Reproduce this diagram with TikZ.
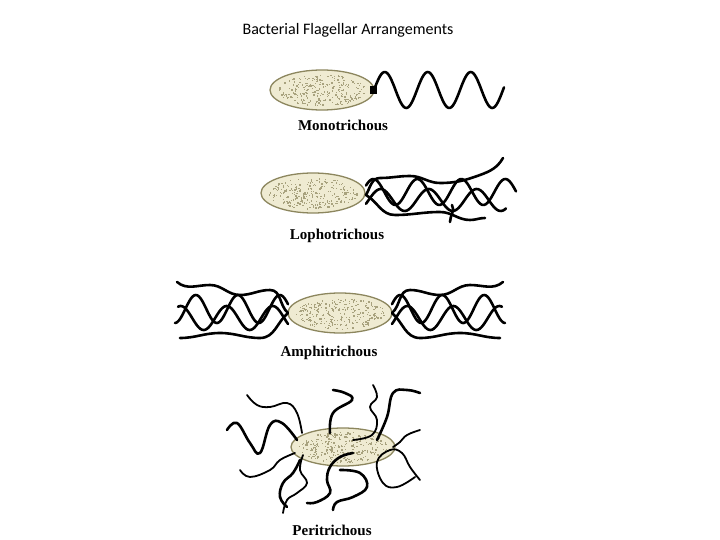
\documentclass[tikz,border=0pt]{standalone}
\usepackage{fontspec}
\setmainfont{Liberation Serif}
\newfontfamily\titlefont{Carlito}
\definecolor{cellfill}{HTML}{EFEBD2}
\definecolor{cellline}{HTML}{8C865E}
\definecolor{speck}{HTML}{A8A27E}
\usetikzlibrary{shapes.geometric}
\tikzset{
  cell/.style={draw=cellline,line width=1.3pt,fill=cellfill,ellipse,minimum width=104pt,minimum height=40pt,inner sep=0pt},
  flag/.style={line width=2.6pt,line cap=round,line join=round},
  thin flag/.style={line width=1.8pt,line cap=round,line join=round},
  lbl/.style={font=\bfseries\fontsize{15}{17}\selectfont},
}
\newcommand{\specks}[2]{%
  \foreach \i in {1,...,260}{%
    \pgfmathsetmacro{\ra}{rnd*360}\pgfmathsetmacro{\rr}{sqrt(rnd)*0.92}%
    \fill[speck] ({#1+48*\rr*cos(\ra)},{#2+17*\rr*sin(\ra)}) rectangle +(1.3,1.3);}}
\begin{document}
\begin{tikzpicture}[x=1pt,y=-1pt]
\useasboundingbox (0,0) rectangle (720,540);
\pgfmathsetseed{7}
\node[font=\titlefont\fontsize{16}{19}\selectfont] (title) at (348,30) {Bacterial Flagellar Arrangements};
% Monotrichous
\node[cell] (c1) at (322,90) {};
\specks{322}{90}
\fill (370,86) rectangle (377,94);
\coordinate (m0) at (374,90);
\draw[flag] (m0) plot[domain=0:130,samples=90] ({374+\x},{90-18*sin(\x/43*360)});
\node[lbl] (l1) at (343,125) {Monotrichous};
% Lophotrichous
\node[cell] (c2) at (313,193) {};
\specks{313}{193}
\coordinate (p2) at (366,195);
\draw[flag] (p2) to[out=60,in=180] (380,178) to[out=0,in=180] (410,176) to[out=0,in=180] (440,183) to[out=0,in=200] (480,175) to[out=20,in=240] (503,158);
\draw[flag] (p2) plot[domain=0:150,samples=90] ({366+\x},{192-13*sin(\x/44*360+30)});
\draw[flag] (p2) plot[domain=0:140,samples=90] ({366+\x},{200+11*sin(\x/48*360+160)});
\draw[flag] (p2) to[out=-30,in=180] (395,215) to[out=0,in=180] (440,212) to[out=0,in=180] (470,220) to[out=0,in=180] (485,218);
\draw[flag] (452,205) to[out=-60,in=90] (450,222);
\node[lbl] (l2) at (337,236) {Lophotrichous};
% Amphitrichous
\node[cell] (c3) at (340,313) {};
\specks{340}{313}
\coordinate (r3) at (392,313);
\coordinate (a3) at (288,313);
\draw[flag] (r3) plot[domain=0:113,samples=90] ({392+\x},{309-14*sin(\x/42*360+20)});
\draw[flag] (r3) plot[domain=0:110,samples=90] ({392+\x},{318+12*sin(\x/46*360+150)});
\draw[flag] (r3) to[out=40,in=180] (410,290) to[out=0,in=180] (440,295) to[out=0,in=180] (470,285) to[out=0,in=220] (503,282);
\draw[flag] (r3) to[out=-40,in=180] (420,338) to[out=0,in=180] (460,333) to[out=0,in=180] (500,338);
\draw[flag] (a3) plot[domain=0:113,samples=90] ({288-\x},{309-14*sin(\x/42*360+20)});
\draw[flag] (a3) plot[domain=0:110,samples=90] ({288-\x},{318+12*sin(\x/46*360+150)});
\draw[flag] (a3) to[out=140,in=0] (270,290) to[out=180,in=0] (240,295) to[out=180,in=0] (210,285) to[out=180,in=-40] (177,282);
\draw[flag] (a3) to[out=220,in=0] (260,338) to[out=180,in=0] (220,333) to[out=180,in=0] (180,338);
\node[lbl] (l3) at (329,353) {Amphitrichous};
% Peritrichous
\node[cell,minimum height=38pt] (c4) at (343,447) {};
\specks{343}{447}
\draw[flag] plot[smooth,tension=0.7] coordinates {(227,430)(237,423)(250,443)(260,453)(270,425)(282,423)(297,440)};
\draw[thin flag] plot[smooth,tension=0.7] coordinates {(247,395)(257,405)(270,407)(287,403)(297,413)(302,433)};
\draw[flag] plot[smooth,tension=0.7] coordinates {(333,390)(345,393)(352,400)(333,413)(330,433)};
\draw[thin flag] plot[smooth,tension=0.7] coordinates {(373,385)(377,397)(370,407)(377,420)(372,435)(353,440)};
\draw[flag] plot[smooth,tension=0.7] coordinates {(420,393)(407,390)(393,393)(387,417)(377,440)};
\draw[thin flag] plot[smooth,tension=0.7] coordinates {(420,430)(407,435)(400,442)(393,447)};
\draw[thin flag] plot[smooth,tension=0.7] coordinates {(420,480)(410,467)(402,453)(390,450)(377,462)(383,483)(397,487)(415,477)};
\draw[flag] plot[smooth,tension=0.7] coordinates {(340,470)(360,473)(367,487)(353,497)(337,502)(333,510)};
\draw[flag] plot[smooth,tension=0.7] coordinates {(353,453)(340,457)(330,467)(327,480)(330,493)(317,502)(307,503)};
\draw[thin flag] plot[smooth,tension=0.7] coordinates {(303,455)(300,470)(307,483)(297,493)(287,500)(283,513)};
\draw[thin flag] plot[smooth,tension=0.7] coordinates {(295,453)(280,460)(270,470)(250,477)(240,470)};
\draw[flag] plot[smooth,tension=0.7] coordinates {(300,460)(293,473)(283,483)(280,497)(287,507)};
\node[lbl] (l4) at (332,530) {Peritrichous};
\end{tikzpicture}
\end{document}
